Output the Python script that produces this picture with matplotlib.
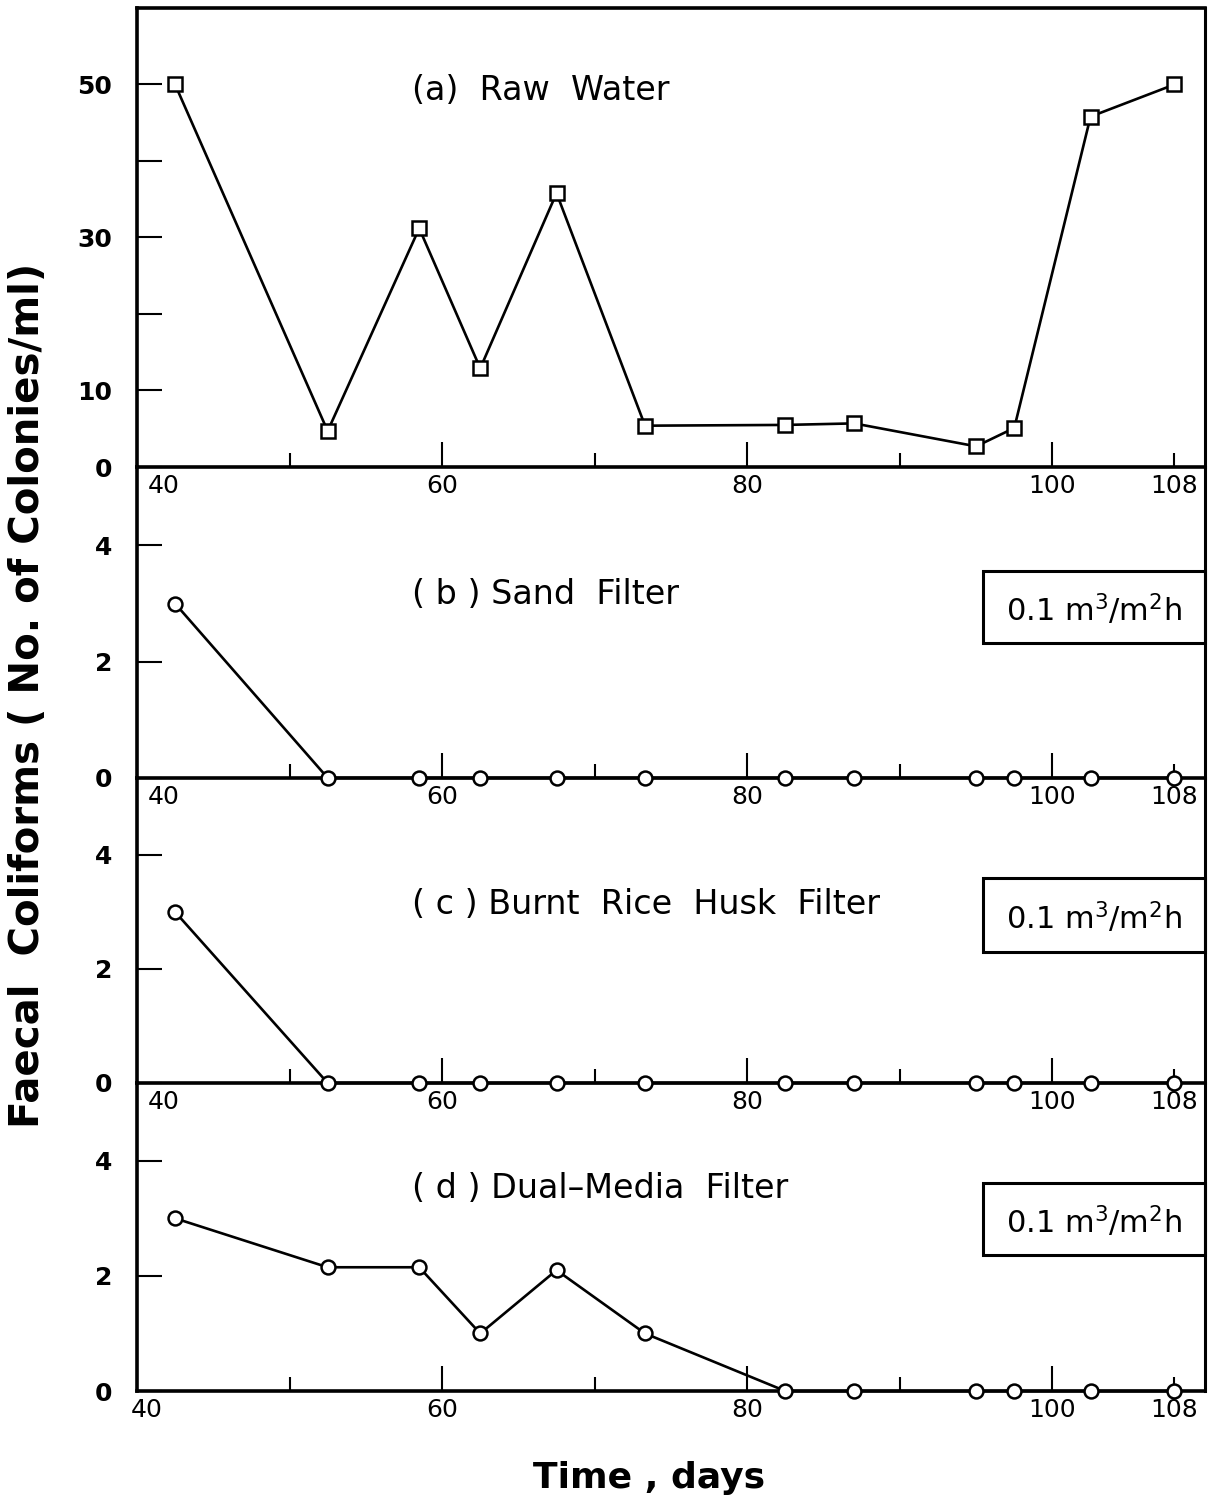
import matplotlib.pyplot as plt
from matplotlib.patches import Rectangle
from matplotlib.transforms import ScaledTranslation

# sampling days (same for all four filters)
days = [42.5, 52.5, 58.5, 62.5, 67.5, 73.3, 82.5, 87, 95, 97.5, 102.5, 108]

raw_water = [50, 4.7, 31.2, 12.9, 35.8, 5.4, 5.5, 5.7, 2.7, 5.1, 45.8, 50]
sand = [3.0, 0, 0, 0, 0, 0, 0, 0, 0, 0, 0, 0]
rice_husk = [3.0, 0, 0, 0, 0, 0, 0, 0, 0, 0, 0, 0]
dual_media = [3.0, 2.15, 2.15, 1.0, 2.1, 1.0, 0, 0, 0, 0, 0, 0]

titles = ['(a)  Raw  Water', '( b ) Sand  Filter', '( c ) Burnt  Rice  Husk  Filter',
          '( d ) Dual\u2013Media  Filter']
title_y = [49.2, 3.15, 3.13, 3.52]
rate_label = r'0.1 m$^3$/m$^2$h'

x_labels = ['40', '60', '80', '100', '108']
x_label_pos = [40, 60, 80, 100, 108]

fig = plt.figure(figsize=(12.13, 15.05), dpi=100)

left, width = 0.1129, 0.8805
bands = [(0.6897, 0.9947), (0.4831, 0.6897), (0.2804, 0.4831), (0.0757, 0.2804)]
series = [raw_water, sand, rice_husk, dual_media]

axes = []
for i, (y0, y1) in enumerate(bands):
    ax = fig.add_axes([left, y0, width, y1 - y0])
    ax.patch.set_visible(False)
    axes.append(ax)
    ax.set_xlim(40, 110)
    if i == 0:
        ax.set_ylim(0, 60)
        ax.plot(days, series[i], '-', color='black', lw=1.9, marker='s', ms=10,
                mfc='white', mec='black', mew=1.8, clip_on=False, zorder=3)
        ax.set_yticks([0, 10, 20, 30, 40, 50])
        ax.set_yticklabels(['0', '10', '', '30', '', '50'])
    else:
        ax.set_ylim(0, 5.35)
        ax.plot(days, series[i], '-', color='black', lw=1.9, marker='o', ms=10,
                mfc='white', mec='black', mew=1.8, clip_on=False, zorder=3)
        ax.set_yticks([0, 2, 4])
        ax.set_yticklabels(['0', '2', '4'])
        ax.spines['top'].set_visible(False)

    for s in ax.spines.values():
        s.set_linewidth(2.6)
    ax.spines['right'].set_linewidth(2.2)

    ax.tick_params(axis='y', direction='in', length=18, width=1.5, pad=18,
                   labelsize=18)
    for lab in ax.get_yticklabels():
        lab.set_fontweight('bold')

    ax.set_xticks(x_label_pos)
    ax.set_xticklabels(x_labels)
    ax.set_xticks([50, 70, 90], minor=True)
    ax.tick_params(axis='x', which='major', direction='in', length=18, width=1.5,
                   pad=5, labelsize=18)
    ax.tick_params(axis='x', which='minor', direction='in', length=10, width=1.5)
    ticks = ax.xaxis.get_major_ticks()
    ticks[0].tick1line.set_markersize(0)
    ticks[4].tick1line.set_markersize(10)
    if i < 3:
        lab40 = ticks[0].label1
        lab40.set_horizontalalignment('left')
        lab40.set_transform(lab40.get_transform() +
                            ScaledTranslation(8 / 72, 0, fig.dpi_scale_trans))
    else:
        lab40 = ticks[0].label1
        lab40.set_transform(lab40.get_transform() +
                            ScaledTranslation(7 / 72, 0, fig.dpi_scale_trans))

    ax.text(58.0, title_y[i], titles[i], fontsize=24, ha='left', va='center')

    if i > 0:
        box_y = [(0.434, 0.666), (0.43, 0.672), (0.442, 0.675)][i - 1]
        ax.add_patch(Rectangle((0.792, box_y[0]), 1 - 0.792, box_y[1] - box_y[0],
                               transform=ax.transAxes, fill=False, lw=2.2,
                               ec='black', clip_on=False))
        ax.text(0.896, (box_y[0] + box_y[1]) / 2 - 0.01, rate_label, fontsize=22,
                transform=ax.transAxes, ha='center', va='center')

fig.text(0.023, 0.538, 'Faecal  Coliforms ( No. of Colonies/ml)', rotation=90,
         fontsize=29, fontweight='bold', ha='center', va='center')
fig.text(0.535, 0.018, 'Time , days', fontsize=26, fontweight='bold',
         ha='center', va='center')

fig.savefig('out.png', dpi=100)
